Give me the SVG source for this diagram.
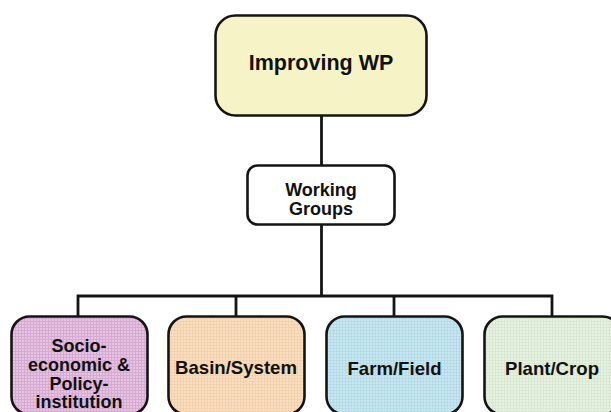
<svg xmlns="http://www.w3.org/2000/svg" width="611" height="412" viewBox="0 0 611 412">
  <defs>
    <style>
      .box { stroke: #141414; stroke-width: 2.6; }
      .wire { fill: none; stroke: #141414; stroke-width: 2.8; }
      .lbl { font-family: "Liberation Sans", Arial, sans-serif; font-weight: bold; fill: #111; text-anchor: middle; }
    </style>
    <!-- fine woven grid texture used on the lower boxes -->
    <pattern id="gridPurple" width="3" height="3" patternUnits="userSpaceOnUse">
      <rect width="3" height="3" fill="#e6c3e2"/>
      <path d="M0 0.5H3M0.5 0V3" stroke="#d6abd2" stroke-width="1"/>
    </pattern>
    <pattern id="gridPeach" width="3" height="3" patternUnits="userSpaceOnUse">
      <rect width="3" height="3" fill="#fbdfc0"/>
      <path d="M0 0.5H3M0.5 0V3" stroke="#f2d2ae" stroke-width="1"/>
    </pattern>
    <pattern id="gridBlue" width="3" height="3" patternUnits="userSpaceOnUse">
      <rect width="3" height="3" fill="#c9e7f0"/>
      <path d="M0 0.5H3M0.5 0V3" stroke="#b5dbe6" stroke-width="1"/>
    </pattern>
    <pattern id="gridGreen" width="3" height="3" patternUnits="userSpaceOnUse">
      <rect width="3" height="3" fill="#e6f1e0"/>
      <path d="M0 0.5H3M0.5 0V3" stroke="#d9e8d2" stroke-width="1"/>
    </pattern>
  </defs>

  <rect width="611" height="412" fill="#ffffff"/>

  <g id="connectors">
    <line class="wire" x1="321.5" y1="115" x2="321.5" y2="165"/>
    <line class="wire" x1="321.5" y1="224" x2="321.5" y2="296"/>
    <polyline class="wire" points="78,316 78,296 552,296 552,316"/>
    <line class="wire" x1="236" y1="296" x2="236" y2="316"/>
    <line class="wire" x1="394" y1="296" x2="394" y2="316"/>
  </g>

  <g id="improving-wp">
    <rect class="box" x="215.5" y="15.5" width="211" height="100" rx="20" fill="#f6f4c6"/>
    <text class="lbl" x="321" y="70" font-size="21.5">Improving WP</text>
  </g>

  <g id="working-groups">
    <rect class="box" x="247.5" y="165.5" width="147" height="59" rx="10" fill="#ffffff"/>
    <text class="lbl" x="321" y="196" font-size="18">Working</text>
    <text class="lbl" x="321" y="215" font-size="18">Groups</text>
  </g>

  <g id="socio-economic">
    <rect class="box" x="11.5" y="316.5" width="136" height="98" rx="18" fill="url(#gridPurple)"/>
    <text class="lbl" x="79" y="352" font-size="18">Socio-</text>
    <text class="lbl" x="79" y="371" font-size="18">economic &amp;</text>
    <text class="lbl" x="79" y="389.5" font-size="18">Policy-</text>
    <text class="lbl" x="79" y="408" font-size="18">institution</text>
  </g>

  <g id="basin-system">
    <rect class="box" x="168.5" y="316.5" width="136" height="98" rx="18" fill="url(#gridPeach)"/>
    <text class="lbl" x="236" y="373.5" font-size="18.6">Basin/System</text>
  </g>

  <g id="farm-field">
    <rect class="box" x="326.5" y="316.5" width="136" height="98" rx="18" fill="url(#gridBlue)"/>
    <text class="lbl" x="394.5" y="375" font-size="18.6">Farm/Field</text>
  </g>

  <g id="plant-crop">
    <rect class="box" x="484.5" y="316.5" width="136" height="98" rx="18" fill="url(#gridGreen)"/>
    <text class="lbl" x="552" y="375" font-size="18.6">Plant/Crop</text>
  </g>
</svg>
